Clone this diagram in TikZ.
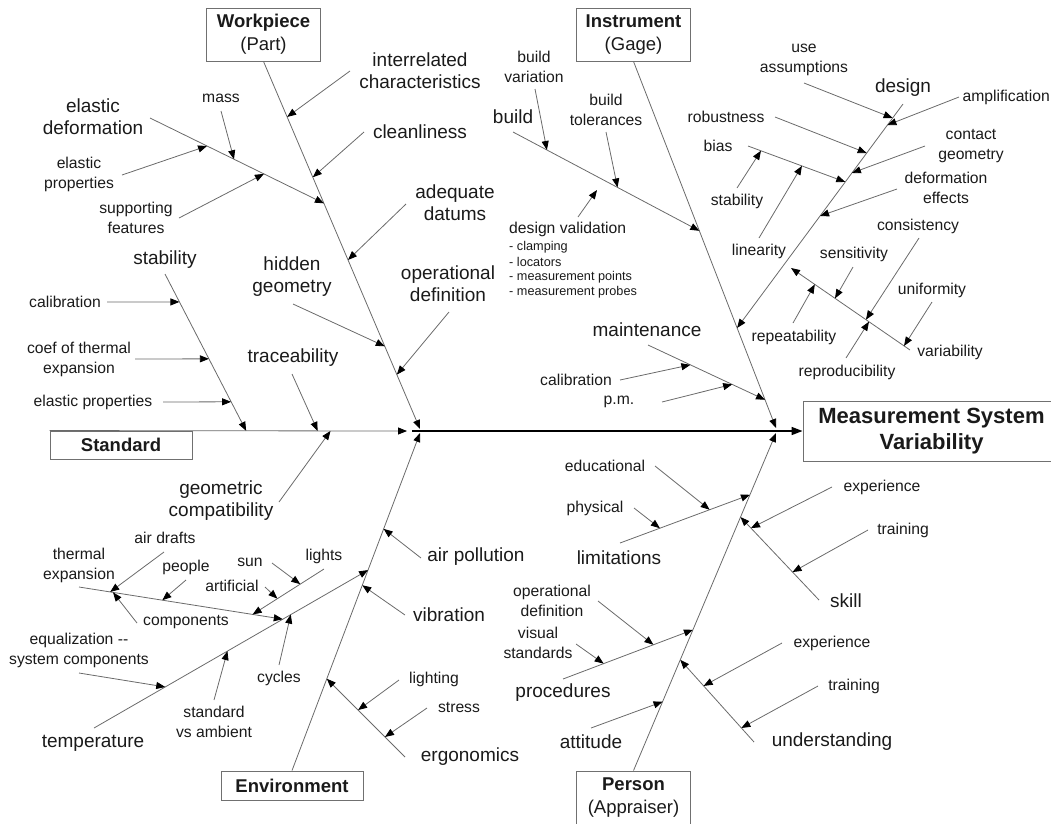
\documentclass[tikz,border=0pt]{standalone}
\usepackage{fontspec}
\setmainfont{Liberation Sans}
\usetikzlibrary{arrows.meta,calc}
\definecolor{txt}{HTML}{1A1A1A}
\definecolor{ln}{HTML}{6A6A6A}
\definecolor{bx}{HTML}{707070}
\begin{document}
\begin{tikzpicture}[x=1pt,y=-1pt,
  lab/.style={inner sep=0pt,align=center,text=txt,font=\fontsize{19}{22}\selectfont},
  sml/.style={inner sep=0pt,align=center,text=txt,font=\fontsize{15.7}{20}\selectfont},
  tny/.style={inner sep=0pt,anchor=west,text=txt,font=\fontsize{12.7}{15}\selectfont},
  catbox/.style={draw=bx,line width=0.9pt,align=center,text=txt,inner sep=0pt,font=\fontsize{18.5}{23}\selectfont},
  bone/.style={draw=ln,line width=0.8pt,-{Triangle[length=9pt,width=7pt,color=black]}},
  twig/.style={draw=ln,line width=0.8pt,-{Triangle[length=9pt,width=7pt,color=black]}},
]
\useasboundingbox (0,0) rectangle (1051,823);

% ---------- category boxes ----------
\node[catbox,minimum width=114pt,minimum height=53pt] (wp) at (263.5,34.5) {{\bfseries Workpiece}\\(Part)};
\node[catbox,minimum width=114pt,minimum height=53pt] (inst) at (633.5,34.5) {{\bfseries Instrument}\\(Gage)};
\node[catbox,minimum width=142pt,minimum height=28pt] (std) at (121,445) {\bfseries Standard};
\node[catbox,minimum width=142pt,minimum height=29pt] (env) at (292,785.5) {\bfseries Environment};
\node[catbox,minimum width=114pt,minimum height=53pt] (pers) at (633.5,797.5) {{\bfseries Person}\\(Appraiser)};
\node[catbox,minimum width=257pt,minimum height=60pt,font=\fontsize{22}{26}\selectfont\bfseries] (msv) at (931.5,431) {Measurement System\\Variability};

% ---------- spine and main bones ----------
\coordinate (hub) at (412,431);
\coordinate (stdE) at (407,431);
\coordinate (wpE) at (420,429);
\coordinate (envE) at (420,433);
\coordinate (instE) at (776,428);
\coordinate (persE) at (776,433);
\draw[line width=1.6pt,black,-{Triangle[length=11pt,width=8pt]}] (hub) -- (msv.west);
\draw[bone] (std.north west) -- (stdE);
\draw[bone] (wp.south) -- (wpE);
\draw[bone] (env.north) -- (envE);
\draw[bone] (inst.south) -- (instE);
\draw[bone] (pers.north) -- (persE);

% ---------- Workpiece ----------
\node[lab] (interrel) at (420,71) {interrelated\\characteristics};
\coordinate (interrelS) at (350,71);
\coordinate (interrelT) at ($(wp.south)!0.151!(wpE)$);
\draw[twig] (interrelS) -- (interrelT);

\node[lab] (clean) at (420,132) {cleanliness};
\coordinate (cleanS) at (364,132);
\coordinate (cleanT) at ($(wp.south)!0.315!(wpE)$);
\draw[twig] (cleanS) -- (cleanT);

\node[lab] (datums) at (455,203) {adequate\\datums};
\coordinate (datumsS) at (406,204);
\coordinate (datumsT) at ($(wp.south)!0.540!(wpE)$);
\draw[twig] (datumsS) -- (datumsT);

\node[lab] (opdef) at (448,284) {operational\\definition};
\coordinate (opdefS) at (449,312);
\coordinate (opdefT) at ($(wp.south)!0.852!(wpE)$);
\draw[twig] (opdefS) -- (opdefT);

\node[lab] (hidden) at (292,277) {hidden\\geometry};
\coordinate (hiddenS) at (293,304);
\coordinate (hiddenT) at ($(wp.south)!0.775!(wpE)$);
\draw[twig] (hiddenS) -- (hiddenT);

\node[lab] (elastic) at (93,117) {elastic\\deformation};
\coordinate (elasticS) at (150,118);
\coordinate (elasticT) at ($(wp.south)!0.386!(wpE)$);
\draw[twig] (elasticS) -- (elasticT);

\node[sml] (mass) at (221,98) {mass};
\coordinate (massS) at (221,111);
\coordinate (massT) at ($(elasticS)!0.483!(elasticT)$);
\draw[twig] (massS) -- (massT);

\node[sml] (elprop) at (79,174) {elastic\\properties};
\coordinate (elpropS) at (122,175);
\coordinate (elpropT) at ($(elasticS)!0.328!(elasticT)$);
\draw[twig] (elpropS) -- (elpropT);

\node[sml] (supp) at (136,218) {supporting\\features};
\coordinate (suppS) at (179,218);
\coordinate (suppT) at ($(elasticS)!0.655!(elasticT)$);
\draw[twig] (suppS) -- (suppT);

% ---------- Standard ----------
\node[lab] (stab) at (165,260) {stability};
\coordinate (stabS) at (165,274);
\coordinate (stabT) at ($(std.north west)!0.55!(stdE)$);
\draw[twig] (stabS) -- (stabT);

\node[sml] (cal) at (65,302) {calibration};
\coordinate (calS) at (107,302);
\coordinate (calT) at ($(stabS)!0.178!(stabT)$);
\draw[twig] (calS) -- (calT);

\node[sml] (coef) at (79,359) {coef of thermal\\expansion};
\coordinate (coefS) at (135,359);
\coordinate (coefT) at ($(stabS)!0.541!(stabT)$);
\draw[twig] (coefS) -- (coefT);

\node[sml] (elp) at (93,402) {elastic properties};
\coordinate (elpS) at (163,402);
\coordinate (elpT) at ($(stabS)!0.815!(stabT)$);
\draw[twig] (elpS) -- (elpT);

\node[lab] (trace) at (293,358) {traceability};
\coordinate (traceS) at (292,374);
\coordinate (traceT) at ($(std.north west)!0.75!(stdE)$);
\draw[twig] (traceS) -- (traceT);

\node[lab] (geo) at (221,501) {geometric\\compatibility};
\coordinate (geoS) at (279,502);
\coordinate (geoT) at ($(std.north west)!0.786!(stdE)$);
\draw[twig] (geoS) -- (geoT);

% ---------- Environment ----------
\node[lab] (airpol) at (476,557) {air pollution};
\coordinate (airpolS) at (421,558);
\coordinate (airpolT) at ($(env.north)!0.716!(envE)$);
\draw[twig] (airpolS) -- (airpolT);

\node[lab] (vib) at (449,615) {vibration};
\coordinate (vibS) at (405,615);
\coordinate (vibT) at ($(env.north)!0.549!(envE)$);
\draw[twig] (vibS) -- (vibT);

\node[lab] (ergo) at (470,757) {ergonomics};
\coordinate (ergoS) at (405,757);
\coordinate (ergoT) at ($(env.north)!0.272!(envE)$);
\draw[twig] (ergoS) -- (ergoT);

\node[sml] (lighting) at (434,679) {lighting};
\coordinate (lightingS) at (399,680);
\coordinate (lightingT) at ($(ergoS)!0.60!(ergoT)$);
\draw[twig] (lightingS) -- (lightingT);

\node[sml] (stress) at (459,707) {stress};
\coordinate (stressS) at (427,708);
\coordinate (stressT) at ($(ergoS)!0.256!(ergoT)$);
\draw[twig] (stressS) -- (stressT);

\node[lab] (temp) at (93,743) {temperature};
\coordinate (tempS) at (94,728);
\coordinate (tempT) at ($(env.north)!0.594!(envE)$);
\draw[twig] (tempS) -- (tempT);

\node[sml] (eq) at (79,650) {equalization -{}-\\system components};
\coordinate (eqS) at (79,673);
\coordinate (eqT) at ($(tempS)!0.26!(tempT)$);
\draw[twig] (eqS) -- (eqT);

\node[sml] (sva) at (214,722) {standard\\vs ambient};
\coordinate (svaS) at (214,700);
\coordinate (svaT) at ($(tempS)!0.487!(tempT)$);
\draw[twig] (svaS) -- (svaT);

\node[sml] (cycles) at (279,678) {cycles};
\coordinate (cyclesS) at (279,665);
\coordinate (cyclesT) at ($(tempS)!0.718!(tempT)$);
\draw[twig] (cyclesS) -- (cyclesT);

\node[sml] (thermal) at (79,565) {thermal\\expansion};
\coordinate (thermalS) at (79,587);
\coordinate (thermalT) at ($(tempS)!0.689!(tempT)$);
\draw[twig] (thermalS) -- (thermalT);

\node[sml] (drafts) at (165,538) {air drafts};
\coordinate (draftsS) at (164,552);
\coordinate (draftsT) at ($(thermalS)!0.153!(thermalT)$);
\draw[twig] (draftsS) -- (draftsT);

\node[sml] (people) at (186,567) {people};
\coordinate (peopleS) at (186,580);
\coordinate (peopleT) at ($(thermalS)!0.409!(thermalT)$);
\draw[twig] (peopleS) -- (peopleT);

\node[sml] (comp) at (186,622) {components};
\coordinate (compS) at (137,623);
\coordinate (compT) at ($(thermalS)!0.167!(thermalT)$);
\draw[twig] (compS) -- (compT);

\node[sml] (lights) at (324,556) {lights};
\coordinate (lightsS) at (324,569);
\coordinate (lightsT) at ($(thermalS)!0.852!(thermalT)$);
\draw[twig] (lightsS) -- (lightsT);

\node[sml] (sun) at (250,562) {sun};
\coordinate (sunS) at (272,563);
\coordinate (sunT) at ($(lightsS)!0.333!(lightsT)$);
\draw[twig] (sunS) -- (sunT);

\node[sml] (artif) at (232,586) {artificial};
\coordinate (artifS) at (265,587);
\coordinate (artifT) at ($(lightsS)!0.653!(lightsT)$);
\draw[twig] (artifS) -- (artifT);

% ---------- Instrument ----------
\node[lab] (build) at (513,117) {build};
\coordinate (buildS) at (513,132);
\coordinate (buildT) at ($(inst.south)!0.462!(instE)$);
\draw[twig] (buildS) -- (buildT);

\node[sml] (bvar) at (534,67) {build\\variation};
\coordinate (bvarS) at (535,89);
\coordinate (bvarT) at ($(buildS)!0.182!(buildT)$);
\draw[twig] (bvarS) -- (bvarT);

\node[sml] (btol) at (606,110) {build\\tolerances};
\coordinate (btolS) at (606,132);
\coordinate (btolT) at ($(buildS)!0.561!(buildT)$);
\draw[twig] (btolS) -- (btolT);

\node[sml,anchor=west] (dv) at (509,229) {design validation};
\node[tny] (dv1) at (509,247) {- clamping};
\node[tny] (dv2) at (509,262) {- locators};
\node[tny] (dv3) at (509,277) {- measurement points};
\node[tny] (dv4) at (509,292) {- measurement probes};
\coordinate (dvS) at (578,217);
\coordinate (dvT) at (597,190);
\draw[twig] (dvS) -- (dvT);

\node[lab] (design) at (903,88) {design};
\coordinate (designS) at (903,104);
\coordinate (designT) at ($(inst.south)!0.727!(instE)$);
\draw[twig] (designS) -- (designT);

\node[sml,anchor=east] (ampl) at (1050,97) {amplification};
\coordinate (amplS) at (959,97);
\coordinate (amplT) at ($(designS)!0.094!(designT)$);
\draw[twig] (amplS) -- (amplT);

\node[sml] (use) at (804,60) {use\\assumptions};
\coordinate (useS) at (804,83);
\coordinate (useT) at ($(designS)!0.0625!(designT)$);
\draw[twig] (useS) -- (useT);

\node[sml] (robust) at (726,117) {robustness};
\coordinate (robustS) at (775,117);
\coordinate (robustT) at ($(designS)!0.219!(designT)$);
\draw[twig] (robustS) -- (robustT);

\node[sml] (contact) at (971,146) {contact\\geometry};
\coordinate (contactS) at (925,146);
\coordinate (contactT) at ($(designS)!0.308!(designT)$);
\draw[twig] (contactS) -- (contactT);

\node[sml] (bias) at (718,146) {bias};
\coordinate (biasS) at (748,146);
\coordinate (biasT) at ($(designS)!0.348!(designT)$);
\draw[twig] (biasS) -- (biasT);

\node[sml] (stab2) at (737,201) {stability};
\coordinate (stab2S) at (737,188);
\coordinate (stab2T) at ($(biasS)!0.133!(biasT)$);
\draw[twig] (stab2S) -- (stab2T);

\node[sml] (lin) at (759,251) {linearity};
\coordinate (linS) at (759,238);
\coordinate (linT) at ($(biasS)!0.554!(biasT)$);
\draw[twig] (linS) -- (linT);

\node[sml] (deform) at (946,188) {deformation\\effects};
\coordinate (deformS) at (897,189);
\coordinate (deformT) at ($(designS)!0.5!(designT)$);
\draw[twig] (deformS) -- (deformT);

\node[sml] (var) at (950,352) {variability};
\coordinate (varS) at (910,350);
\coordinate (varE) at (791,268);
\draw[twig] (varS) -- (varE);

\node[sml] (consist) at (918,226) {consistency};
\coordinate (consistS) at (919,238);
\coordinate (consistT) at ($(varS)!0.37!(varE)$);
\draw[twig] (consistS) -- (consistT);

\node[sml] (sens) at (854,254) {sensitivity};
\coordinate (sensS) at (853,267);
\coordinate (sensT) at ($(varS)!0.63!(varE)$);
\draw[twig] (sensS) -- (sensT);

\node[sml] (unif) at (932,290) {uniformity};
\coordinate (unifS) at (932,302);
\coordinate (unifT) at ($(varS)!0.05!(varE)$);
\draw[twig] (unifS) -- (unifT);

\node[sml] (repeat) at (794,337) {repeatability};
\coordinate (repeatS) at (793,323);
\coordinate (repeatT) at ($(varS)!0.80!(varE)$);
\draw[twig] (repeatS) -- (repeatT);

\node[sml] (reprod) at (847,372) {reproducibility};
\coordinate (reprodS) at (846,358);
\coordinate (reprodT) at ($(varS)!0.345!(varE)$);
\draw[twig] (reprodS) -- (reprodT);

\node[lab] (maint) at (647,330) {maintenance};
\coordinate (maintS) at (648,345);
\coordinate (maintT) at ($(inst.south)!0.923!(instE)$);
\draw[twig] (maintS) -- (maintT);

\node[sml] (cal2) at (576,380) {calibration};
\coordinate (cal2S) at (620,380);
\coordinate (cal2T) at ($(maintS)!0.362!(maintT)$);
\draw[twig] (cal2S) -- (cal2T);

\node[sml] (pm) at (619,402) {p.m.};
\coordinate (pmS) at (662,402);
\coordinate (pmT) at ($(maintS)!0.719!(maintT)$);
\draw[twig] (pmS) -- (pmT);

% ---------- Person ----------
\node[lab] (lim) at (619,558) {limitations};
\coordinate (limS) at (620,543);
\coordinate (limT) at ($(pers.north)!0.817!(persE)$);
\draw[twig] (limS) -- (limT);

\node[sml] (educ) at (605,466) {educational};
\coordinate (educS) at (655,466);
\coordinate (educT) at ($(limS)!0.69!(limT)$);
\draw[twig] (educS) -- (educT);

\node[sml] (phys) at (595,508) {physical};
\coordinate (physS) at (634,508);
\coordinate (physT) at ($(limS)!0.307!(limT)$);
\draw[twig] (physS) -- (physT);

\node[lab] (skill) at (846,601) {skill};
\coordinate (skillS) at (819,600);
\coordinate (skillT) at ($(pers.north)!0.751!(persE)$);
\draw[twig] (skillS) -- (skillT);

\node[sml] (exp1) at (882,487) {experience};
\coordinate (exp1S) at (832,487);
\coordinate (exp1T) at ($(skillS)!0.867!(skillT)$);
\draw[twig] (exp1S) -- (exp1T);

\node[sml] (train1) at (903,530) {training};
\coordinate (train1S) at (868,530);
\coordinate (train1T) at ($(skillS)!0.337!(skillT)$);
\draw[twig] (train1S) -- (train1T);

\node[lab] (proc) at (563,693) {procedures};
\coordinate (procS) at (563,679);
\coordinate (procT) at ($(pers.north)!0.417!(persE)$);
\draw[twig] (procS) -- (procT);

\node[sml] (opdef2) at (552,601) {operational\\definition};
\coordinate (opdef2S) at (598,601);
\coordinate (opdef2T) at ($(procS)!0.696!(procT)$);
\draw[twig] (opdef2S) -- (opdef2T);

\node[sml] (visual) at (538,643) {visual\\standards};
\coordinate (visualS) at (576,644);
\coordinate (visualT) at ($(procS)!0.313!(procT)$);
\draw[twig] (visualS) -- (visualT);

\node[lab] (underst) at (832,742) {understanding};
\coordinate (understS) at (754,742);
\coordinate (understT) at ($(pers.north)!0.328!(persE)$);
\draw[twig] (understS) -- (understT);

\node[sml] (exp2) at (832,643) {experience};
\coordinate (exp2S) at (782,643);
\coordinate (exp2T) at ($(understS)!0.683!(understT)$);
\draw[twig] (exp2S) -- (exp2T);

\node[sml] (train2) at (854,686) {training};
\coordinate (train2S) at (818,686);
\coordinate (train2T) at ($(understS)!0.171!(understT)$);
\draw[twig] (train2S) -- (train2T);

\node[lab] (att) at (591,742) {attitude};
\coordinate (attS) at (591,728);
\coordinate (attT) at ($(pers.north)!0.204!(persE)$);
\draw[twig] (attS) -- (attT);

\end{tikzpicture}
\end{document}
